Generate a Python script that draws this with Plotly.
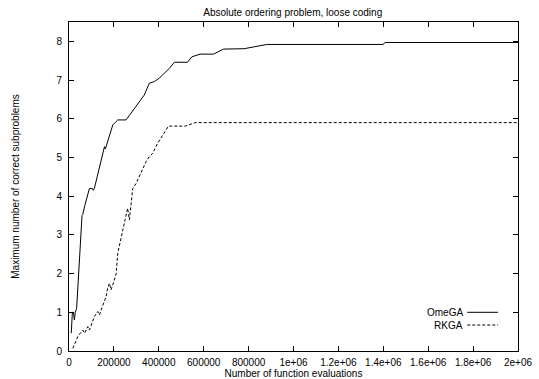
import plotly.graph_objects as go

# OmeGA (solid)
omega_x = [10000, 12000, 15000, 20000, 24000, 28000, 34000, 58000, 61000, 70000, 76000,
           91000, 104000, 108000, 113000, 158000, 162000, 187000, 195000, 210000, 217000,
           254000, 335000, 358000, 380000, 402000, 424000, 447000, 469000, 528000, 547000,
           584000, 644000, 688000, 780000, 866000, 881000, 1400000, 1407000, 2000000]
omega_y = [0.46, 0.62, 1.0, 1.0, 0.8, 1.0, 1.1, 3.5, 3.52, 3.75, 3.9,
           4.2, 4.2, 4.15, 4.2, 5.28, 5.22, 5.71, 5.84, 5.93, 5.97,
           5.97, 6.61, 6.92, 6.96, 7.05, 7.18, 7.30, 7.46, 7.46, 7.6,
           7.67, 7.67, 7.80, 7.81, 7.89, 7.92, 7.92, 7.97, 7.97]

# RKGA (dashed)
rkga_x = [17000, 39000, 61000, 69000, 84000, 91000, 113000, 120000, 128000, 136000, 143000,
          165000, 172000, 180000, 187000, 195000, 210000, 217000, 239000, 254000, 261000,
          269000, 284000, 299000, 321000, 343000, 358000, 373000, 395000, 417000, 443000,
          518000, 562000, 2000000]
rkga_y = [0.07, 0.37, 0.54, 0.46, 0.63, 0.54, 0.89, 0.97, 1.02, 0.93, 1.06,
          1.40, 1.62, 1.75, 1.58, 1.71, 2.0, 2.52, 3.13, 3.51, 3.69,
          3.39, 4.2, 4.33, 4.59, 4.89, 5.02, 5.11, 5.37, 5.58, 5.81,
          5.81, 5.90, 5.90]

x_tickvals = [0, 200000, 400000, 600000, 800000, 1000000, 1200000, 1400000, 1600000, 1800000, 2000000]
x_ticktext = ["0", "200000", "400000", "600000", "800000", "1e+06", "1.2e+06", "1.4e+06",
              "1.6e+06", "1.8e+06", "2e+06"]
y_tickvals = [0, 1, 2, 3, 4, 5, 6, 7, 8]

FONT = "Liberation Sans, Arial, Helvetica, sans-serif"

fig = go.Figure()
fig.add_trace(go.Scatter(x=omega_x, y=omega_y, mode="lines", name="OmeGA",
                         line=dict(color="black", width=1), showlegend=False))
fig.add_trace(go.Scatter(x=rkga_x, y=rkga_y, mode="lines", name="RKGA",
                         line=dict(color="black", width=1, dash="3px,2px"), showlegend=False))

axis_common = dict(showline=True, linecolor="black", linewidth=1, mirror="allticks",
                   ticks="inside", ticklen=5, tickcolor="black", tickwidth=1,
                   showgrid=False, zeroline=False, automargin=False,
                   tickfont=dict(family=FONT, size=10, color="black"))

fig.update_xaxes(range=[0, 2000000], tickvals=x_tickvals, ticktext=x_ticktext,
                 ticklabelstandoff=2,
                 title=dict(text="Number of function evaluations", standoff=0,
                            font=dict(family=FONT, size=10, color="black")),
                 **axis_common)
fig.update_yaxes(range=[0, 8.5], tickvals=y_tickvals, ticklabelstandoff=4,
                 title=dict(text="Maximum number of correct subproblems", standoff=34,
                            font=dict(family=FONT, size=10, color="black")),
                 **axis_common)

# gnuplot-style key: text on the left, line sample on the right
legend_items = [("OmeGA", "solid", 0.1176), ("RKGA", "3px,2px", 0.079)]
for label, dash, yy in legend_items:
    fig.add_annotation(x=0.883, y=yy, xref="paper", yref="paper", text=label,
                       showarrow=False, xanchor="right", yanchor="middle",
                       font=dict(family=FONT, size=10, color="black"))
    fig.add_shape(type="line", xref="paper", yref="paper", x0=0.887, x1=0.9555,
                  y0=yy, y1=yy, line=dict(color="black", width=1, dash=dash))

fig.update_layout(
    width=539, height=379,
    margin=dict(l=69, r=21, t=22, b=28),
    paper_bgcolor="white", plot_bgcolor="white",
    title=dict(text="Absolute ordering problem, loose coding", x=0.5431, xanchor="center",
               y=0.968, yanchor="middle",
               font=dict(family=FONT, size=10, color="black")),
    showlegend=False,
)

fig.write_html("out.html", config={"displayModeBar": False},
               post_script="document.body.style.margin='0';document.body.style.overflow='hidden';")
